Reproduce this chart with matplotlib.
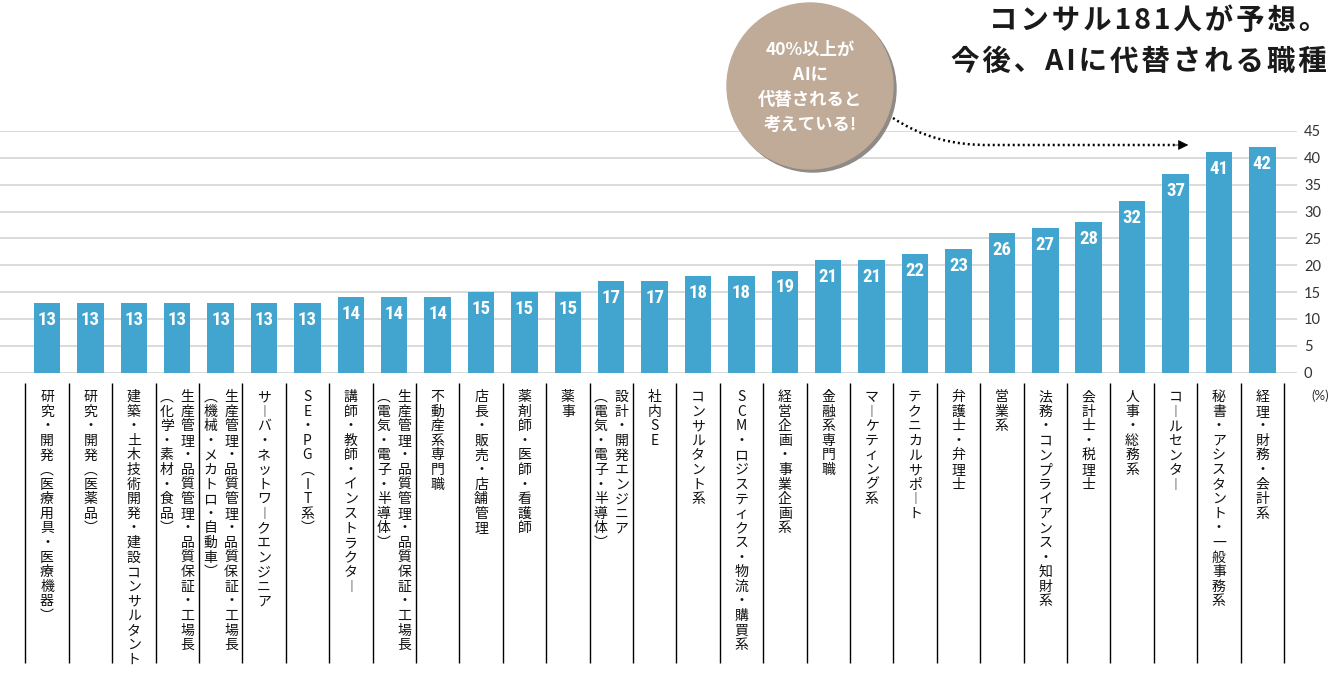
import matplotlib
matplotlib.use("Agg")
import matplotlib.pyplot as plt
from matplotlib import font_manager
from matplotlib.patches import Ellipse, PathPatch, FancyArrowPatch
from matplotlib.path import Path
from matplotlib.transforms import blended_transform_factory

# データ（職種ごとの「40%以上がAIに代替される」と考える割合）
labels = [
    "研究・開発（医療用具・医療機器）",
    "研究・開発（医薬品）",
    "建築・土木技術開発・建設コンサルタント",
    "生産管理・品質管理・品質保証・工場長\n（化学・素材・食品）",
    "生産管理・品質管理・品質保証・工場長\n（機械・メカトロ・自動車）",
    "サーバ・ネットワークエンジニア",
    "SE・PG（IT系）",
    "講師・教師・インストラクター",
    "生産管理・品質管理・品質保証・工場長\n（電気・電子・半導体）",
    "不動産系専門職",
    "店長・販売・店舗管理",
    "薬剤師・医師・看護師",
    "薬事",
    "設計・開発エンジニア\n（電気・電子・半導体）",
    "社内SE",
    "コンサルタント系",
    "SCM・ロジスティクス・物流・購買系",
    "経営企画・事業企画系",
    "金融系専門職",
    "マーケティング系",
    "テクニカルサポート",
    "弁護士・弁理士",
    "営業系",
    "法務・コンプライアンス・知財系",
    "会計士・税理士",
    "人事・総務系",
    "コールセンター",
    "秘書・アシスタント・一般事務系",
    "経理・財務・会計系",
]
valores = [13, 13, 13, 13, 13, 13, 13, 14, 14, 14, 15, 15, 15, 17, 17, 18,
           18, 19, 21, 21, 22, 23, 26, 27, 28, 32, 37, 41, 42]
yticks = [0, 5, 10, 15, 20, 25, 30, 35, 40, 45]
titulo = ["コンサル181人が予想。", "今後、AIに代替される職種"]
balao = ["40%以上が", "A\u200aIに", "代替されると", "考えている!"]

cor_barra = "#41a5cf"
cor_balao = "#bfab97"
jp = ["Noto Sans CJK JP", "DejaVu Sans"]

# fonte estreita para os números das barras (usa a primeira que existir)
fonte_num = "DejaVu Sans"
for nome in ["Liberation Sans Narrow", "Roboto Condensed", "Roboto"]:
    try:
        font_manager.findfont(nome, fallback_to_default=False)
        fonte_num = nome
        break
    except ValueError:
        pass

W, H = 1340, 677
fig = plt.figure(figsize=(W / 100, H / 100), dpi=100)
fig.patch.set_facecolor("white")

# eixo: y=0 em 372.5px, y=45 em 131px
ax = fig.add_axes([0, (H - 372.5) / H, 1297 / W, (372.5 - 131) / H])
x = list(range(len(valores)))
ax.bar(x, valores, width=0.61, color=cor_barra, zorder=2)
ax.set_xlim(-1.083, 28.8)
ax.set_ylim(0, 45)
ax.set_yticks(yticks)
ax.grid(axis="y", color="#d8d8d8", lw=1.3, zorder=0)
ax.set_xticks([])
for s in ax.spines.values():
    s.set_visible(False)
ax.yaxis.tick_right()
ax.tick_params(axis="y", length=0, pad=5, labelsize=10.5, labelcolor="#333333")
for t in ax.get_yticklabels():
    t.set_family(["Lato", "DejaVu Sans"])
fig.text(1320 / W, (H - 396) / H, "(%)", ha="center", va="center",
         fontsize=9.5, color="#333333", family=["Lato", "DejaVu Sans"])

# valores dentro das barras
for xi, v in zip(x, valores):
    ax.text(xi, v - 3.15, str(v), ha="center", va="center", color="white",
            fontsize=13.5, fontweight="bold", family=fonte_num, zorder=3)

# separadores e rótulos verticais (escrita vertical japonesa)
tr = blended_transform_factory(ax.transData, fig.transFigure)
ax.vlines([i - 0.5 for i in range(len(valores) + 1)], (H - 663) / H, (H - 383) / H,
          transform=tr, color="black", lw=1, clip_on=False)

vert = {"（": "︵", "）": "︶", "(": "︵", ")": "︶", "ー": "︱"}
passo = 14.6 / H
topo = (H - 397) / H
for i, lab in enumerate(labels):
    colunas = lab.split("\n")
    if len(colunas) == 1:
        offs = [0]
    else:
        offs = [0.24, -0.24]
    for col, dx in zip(colunas, offs):
        for k, ch in enumerate(col):
            ax.text(i + dx, topo - k * passo, vert.get(ch, ch), transform=tr,
                    ha="center", va="center", fontsize=10, color="#111111",
                    family=jp, clip_on=False)

# título (espaço fino entre letras para imitar o espaçamento)
hair = "\u200a"
fig.text(1327 / W, (H - 21) / H, hair.join(titulo[0]), ha="right", va="center",
         fontsize=20.5, fontweight="bold", color="#1a1a1a", family=jp)
fig.text(1327 / W, (H - 62) / H, hair.join(titulo[1]), ha="right", va="center",
         fontsize=20.5, fontweight="bold", color="#1a1a1a", family=jp)

# balão
cx, cy, r = 810, 86, 83
fig.add_artist(Ellipse(((cx + 3) / W, (H - cy - 3) / H), 2 * r / W, 2 * r / H,
                       transform=fig.transFigure, color="#8f8a85", zorder=4))
fig.add_artist(Ellipse((cx / W, (H - cy) / H), 2 * r / W, 2 * r / H,
                       transform=fig.transFigure, color=cor_balao, zorder=5))
for linha, yy in zip(balao, [50, 75, 100, 125]):
    fig.text(cx / W, (H - yy) / H, linha, ha="center", va="center", fontsize=12.5,
             fontweight="bold", color="white", family=jp, zorder=6)

# seta pontilhada
pts = [(893, 118), (935, 146), (990, 145), (1176, 145)]
verts = [(px / W, (H - py) / H) for px, py in pts]
caminho = Path(verts, [Path.MOVETO, Path.CURVE3, Path.CURVE3, Path.LINETO])
fig.add_artist(PathPatch(caminho, transform=fig.transFigure, fill=False, color="black",
                         lw=1.8, linestyle=(0, (0.8, 1.2)), zorder=6))
fig.add_artist(FancyArrowPatch((1172 / W, (H - 145) / H), (1191 / W, (H - 145) / H),
                               transform=fig.transFigure, arrowstyle="-|>",
                               mutation_scale=16, color="black", lw=0.5, zorder=6))

fig.savefig("out.png", dpi=100, facecolor="white")
